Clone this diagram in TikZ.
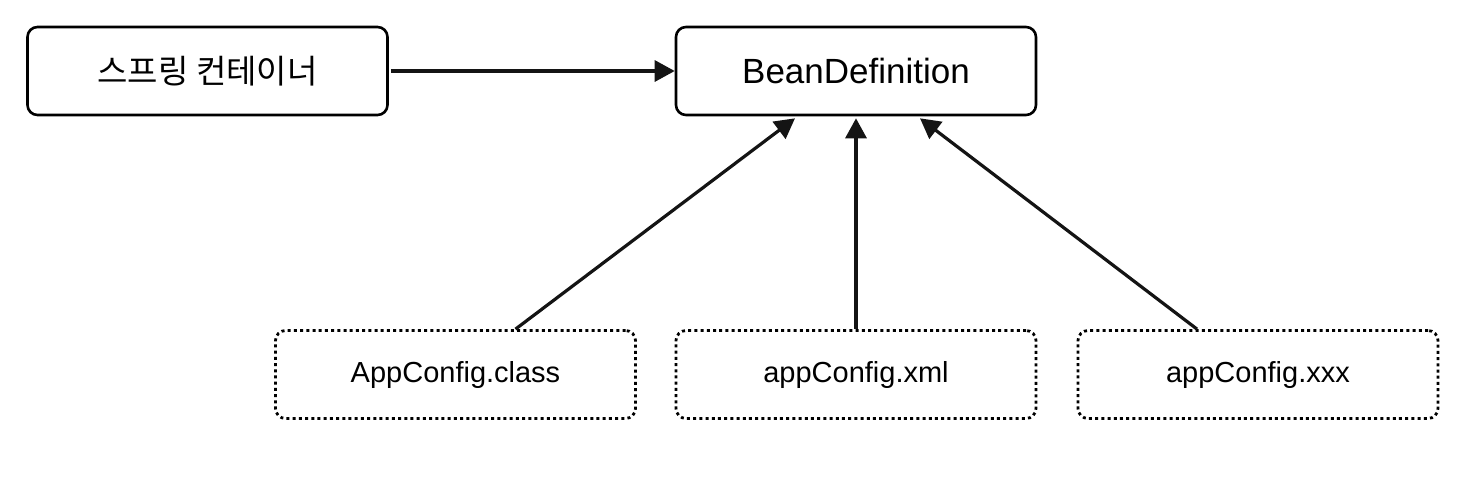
\documentclass[tikz,border=0pt]{standalone}
\usepackage{fontspec}
\setmainfont{Liberation Sans}
\newfontfamily\krfont{Noto Sans CJK KR}
\usepackage{xcolor}
\usepackage{tikz}
\usetikzlibrary{arrows.meta,positioning}
\tikzset{
  mainbox/.style={draw=black,line width=1.3pt,rounded corners=5pt,fill=white,
    minimum width=180pt,minimum height=44pt,inner sep=0pt},
  srcbox/.style={mainbox,line width=1.4pt,dash pattern=on 1.5pt off 1.6pt,font=\fontsize{14.5}{17}\selectfont},
  regedge/.style={-{Triangle[length=10pt,width=10.5pt]},line width=1.6pt,black!92},
}

\begin{document}
\begin{tikzpicture}[x=0.5pt,y=-0.5pt]
    \useasboundingbox (0,0) rectangle (1474,488);
    \node[mainbox,font=\krfont\fontsize{16.5}{19}\selectfont] (cont) at (207.5,71) {스프링 컨테이너};
    \node[mainbox,font=\fontsize{17.5}{20}\selectfont] (bean) at (856,71) {BeanDefinition};
    \node[srcbox] (cls) at (455.5,374.5) {AppConfig.class};
    \node[srcbox] (xml) at (856,374.5) {appConfig.xml};
    \node[srcbox] (xxx) at (1258,374.5) {appConfig.xxx};
    \draw[regedge] ([xshift=1pt]cont.east) -- (bean.west);
    \draw[regedge] ([xshift=30pt]cls.north) -- ([xshift=-30.5pt,yshift=-1pt]bean.south);
    \draw[regedge] (xml.north) -- ([yshift=-1pt]bean.south);
    \draw[regedge] ([xshift=-30.5pt]xxx.north) -- ([xshift=32pt,yshift=-1pt]bean.south);
  \end{tikzpicture}
\end{document}
